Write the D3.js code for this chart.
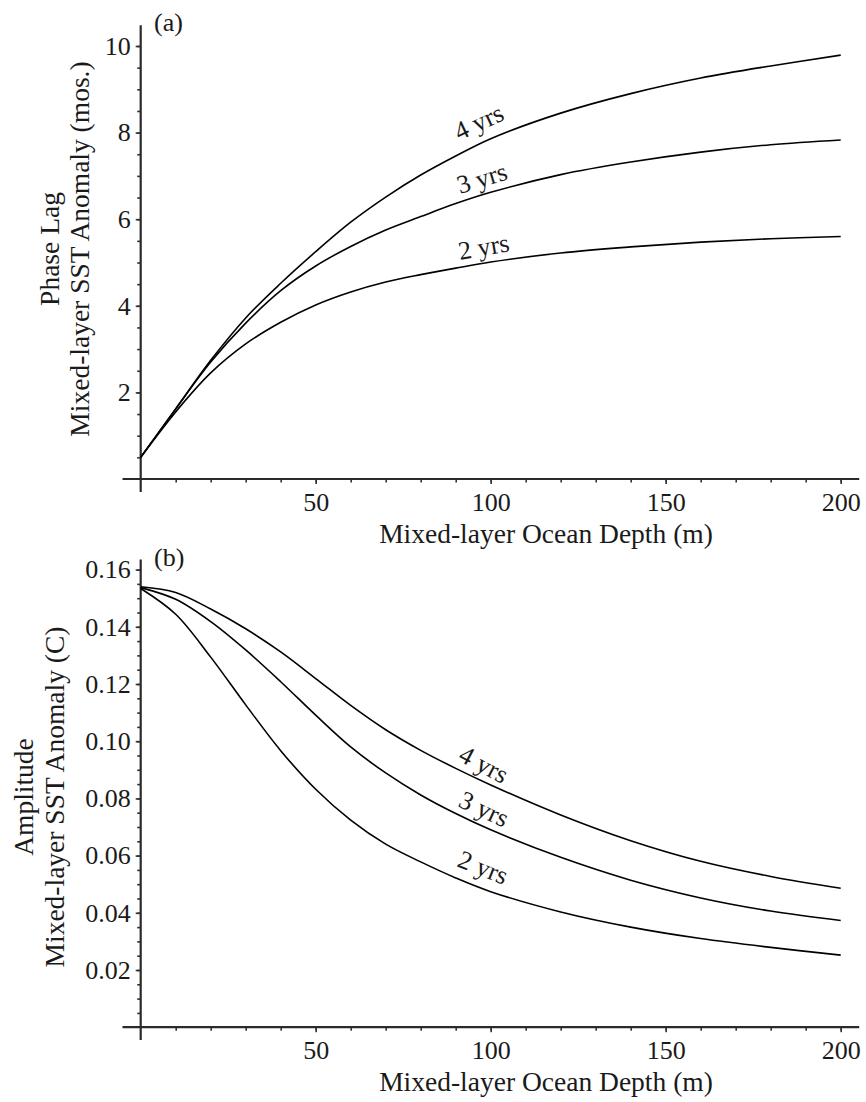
<!DOCTYPE html>
<html><head><meta charset="utf-8">
<script src="https://cdn.jsdelivr.net/npm/d3@7"></script>
<style>
html,body{margin:0;padding:0;background:#fff}
svg{display:block}
svg text{font-family:"Liberation Serif","Times New Roman",serif !important;fill:#1a1a1a}
</style>
</head><body>
<svg id="c" width="866" height="1102"></svg>
<script>
// ---- data ----
const depth = [0, 10, 20, 30, 40, 50, 60, 70, 80, 90, 100, 120, 140, 160, 180, 200];
const lag2yrs = [0.5, 1.55, 2.45, 3.12, 3.62, 4.02, 4.32, 4.55, 4.72, 4.87, 5.01, 5.22, 5.36, 5.47, 5.55, 5.6];
const lag3yrs = [0.5, 1.62, 2.7, 3.6, 4.35, 4.92, 5.37, 5.75, 6.06, 6.36, 6.62, 7.03, 7.32, 7.55, 7.72, 7.83];
const lag4yrs = [0.5, 1.62, 2.74, 3.72, 4.52, 5.25, 5.93, 6.51, 7.02, 7.46, 7.86, 8.45, 8.9, 9.26, 9.54, 9.79];
const amp2yrs = [0.1534, 0.1444, 0.1294, 0.1127, 0.0967, 0.0832, 0.0724, 0.064, 0.0578, 0.0522, 0.0474, 0.0403, 0.035, 0.031, 0.0279, 0.0252];
const amp3yrs = [0.1537, 0.1496, 0.1418, 0.1319, 0.1208, 0.1091, 0.098, 0.0889, 0.0812, 0.0747, 0.069, 0.0594, 0.0514, 0.0452, 0.0406, 0.0373];
const amp4yrs = [0.154, 0.152, 0.1462, 0.1393, 0.1312, 0.1219, 0.1125, 0.104, 0.0968, 0.0905, 0.0847, 0.0742, 0.0652, 0.058, 0.0527, 0.0486];
const seriesNames = ["2 yrs", "3 yrs", "4 yrs"];
const xMajorTicks = [50, 100, 150, 200];
const xMinorTicks = d3.range(10, 201, 10);
const lagMajorTicks = [2, 4, 6, 8, 10];
const lagMinorTicks = d3.range(0.5, 10.01, 0.5);
const ampMajorTicks = [0.02, 0.04, 0.06, 0.08, 0.10, 0.12, 0.14, 0.16];
const ampMinorTicks = d3.range(1, 33).map(i => i * 0.005);
const xTitle = "Mixed-layer Ocean Depth (m)";

// ---- drawing ----
const FONT = "'Liberation Serif','Times New Roman',serif";
const svg = d3.select("#c");
const x = d3.scaleLinear().domain([0, 200]).range([140.7, 840.7]);

function panel(o) {
  const y = o.y;
  const g = svg.append("g");
  g.append("g").attr("transform", `translate(0,${y(0)})`)
    .call(d3.axisBottom(x).tickValues(xMinorTicks).tickSize(3.5).tickFormat(""))
    .call(s => s.select(".domain").remove());
  g.append("g").attr("transform", `translate(${x(0)},0)`)
    .call(d3.axisLeft(y).tickValues(o.yMinor).tickSize(3.5).tickFormat(""))
    .call(s => s.select(".domain").remove());
  const ax = g.append("g").attr("transform", `translate(0,${y(0)})`)
    .call(d3.axisBottom(x).tickValues(xMajorTicks).tickSize(5).tickPadding(8.5).tickFormat(d3.format("d")))
    .call(s => s.select(".domain").remove());
  const ay = g.append("g").attr("transform", `translate(${x(0)},0)`)
    .call(d3.axisLeft(y).tickValues(o.yMajor).tickSize(5).tickPadding(5).tickFormat(o.fmt))
    .call(s => s.select(".domain").remove());
  g.selectAll(".tick line").attr("stroke", "#333").attr("stroke-width", 1.6);
  [ax, ay].forEach(a => {
    a.attr("font-family", FONT);
    a.selectAll("text").attr("font-size", 26).style("font-family", FONT).style("fill", "#1a1a1a");
  });
  g.append("line").attr("x1", x(-5.2)).attr("x2", x(205.3)).attr("y1", y(0)).attr("y2", y(0))
    .attr("stroke", "#2a2a2a").attr("stroke-width", 2.2);
  g.append("line").attr("x1", x(0)).attr("x2", x(0)).attr("y1", y(o.yBottom)).attr("y2", y(o.yTop))
    .attr("stroke", "#2a2a2a").attr("stroke-width", 2.2);
  const line = d3.line().x(d => x(d[0])).y(d => y(d[1])).curve(d3.curveCatmullRom.alpha(0.5));
  o.series.forEach(s => {
    g.append("path").datum(depth.map((d, i) => [d, s[i]]))
      .attr("d", line).attr("fill", "none").attr("stroke", "#000").attr("stroke-width", 1.6);
  });
  o.labels.forEach((l, i) => {
    g.append("text").attr("transform", `translate(${x(l.x)},${y(l.y)}) rotate(${l.a})`)
      .attr("font-size", 26).style("font-family", FONT).text(seriesNames[i]);
  });
  g.append("text").attr("x", x(3.8)).attr("y", o.letterY).attr("font-size", 26)
    .style("font-family", FONT).text(o.letter);
  g.append("text").attr("x", 546).attr("y", y(0) + 64).attr("text-anchor", "middle")
    .attr("font-size", 27.5).style("font-family", FONT).text(xTitle);
  o.titles.forEach(t => {
    g.append("text").attr("transform", `translate(${t.bx},${o.titleCy}) rotate(-90)`)
      .attr("text-anchor", "middle").attr("font-size", 27.5).style("font-family", FONT).text(t.text);
  });
}

panel({
  y: d3.scaleLinear().domain([0, 10]).range([479, 46]),
  yTop: 10.48, yBottom: -0.3,
  yMajor: lagMajorTicks, yMinor: lagMinorTicks, fmt: d3.format("d"),
  series: [lag2yrs, lag3yrs, lag4yrs],
  labels: [{x: 91.2, y: 5.06, a: -10}, {x: 91.2, y: 6.58, a: -17}, {x: 91.0, y: 7.81, a: -25}],
  letter: "(a)", letterY: 31,
  titles: [{bx: 58.5, text: "Phase Lag"}, {bx: 89, text: "Mixed-layer SST Anomaly (mos.)"}],
  titleCy: 249
});

panel({
  y: d3.scaleLinear().domain([0, 0.16]).range([1027.2, 569.6]),
  yTop: 0.1635, yBottom: -0.0045,
  yMajor: ampMajorTicks, yMinor: ampMinorTicks, fmt: d3.format(".2f"),
  series: [amp2yrs, amp3yrs, amp4yrs],
  labels: [{x: 90.1, y: 0.0564, a: 22}, {x: 90.4, y: 0.0773, a: 25}, {x: 90.4, y: 0.0934, a: 28}],
  letter: "(b)", letterY: 566,
  titles: [{bx: 33, text: "Amplitude"}, {bx: 64, text: "Mixed-layer SST Anomaly (C)"}],
  titleCy: 797
});
</script>
</body></html>
